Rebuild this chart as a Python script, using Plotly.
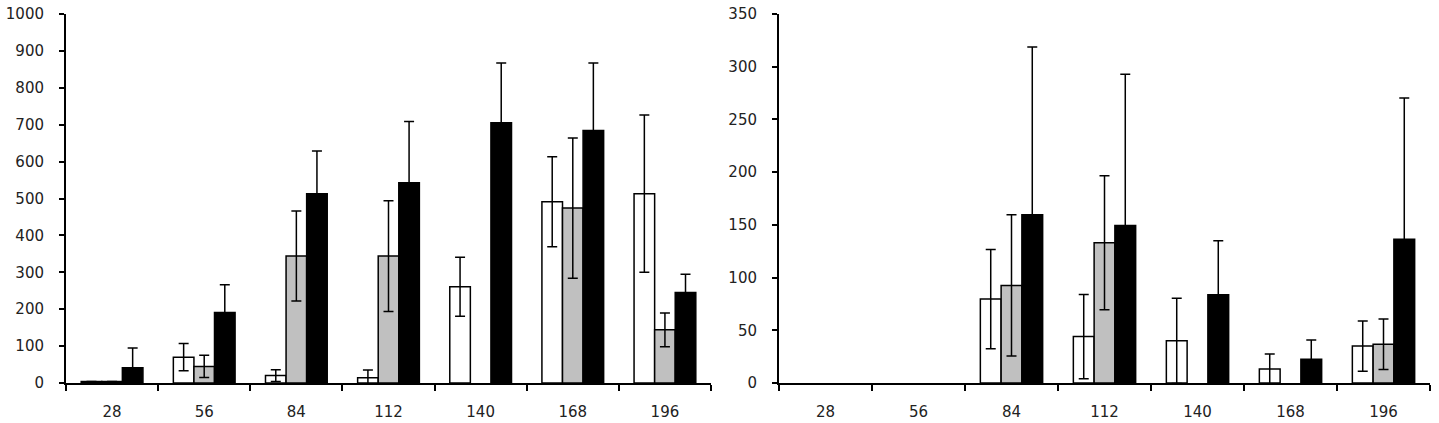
import plotly.graph_objects as go

categories = ["28", "56", "84", "112", "140", "168", "196"]

# Left panel (0-1000)
left_white = [4, 70, 20, 14, 261, 491, 513]
left_white_err = [None, 37, 16, 21, 80, 122, 213]
left_gray = [4, 45, 344, 344, 0, 474, 144]
left_gray_err = [None, 30, 122, 150, None, 190, 46]
left_black = [41, 191, 513, 543, 705, 684, 245]
left_black_err = [54, 75, 116, 166, 162, 183, 50]

# Right panel (0-350)
right_white = [0, 0, 79.6, 44, 40, 13.3, 35]
right_white_err = [None, None, 47, 40, 40.5, 14.2, 23.8]
right_gray = [0, 0, 92.5, 133, 0, 0, 36.7]
right_gray_err = [None, None, 67, 63.5, None, None, 23.9]
right_black = [0, 0, 159.5, 149.4, 83.7, 22.5, 136.4]
right_black_err = [None, None, 159.2, 143.4, 51.3, 18.3, 134]

fill_colors = ["#ffffff", "#c0c0c0", "#000000"]

fig = go.Figure()

def add_series(vals, errs, color, xa, ya):
    # zero values: no visible bar (nothing drawn on the axis)
    shown = [v if v else None for v in vals]
    fig.add_trace(go.Bar(
        x=categories, y=shown,
        marker=dict(color=color, line=dict(color="#000000", width=1.5)),
        error_y=dict(type="data", array=errs, visible=True,
                     color="#000000", thickness=1.5, width=5),
        xaxis=xa, yaxis=ya, showlegend=False, hoverinfo="skip",
    ))

for v, e, c in zip([left_white, left_gray, left_black],
                   [left_white_err, left_gray_err, left_black_err], fill_colors):
    add_series(v, e, c, "x", "y")
for v, e, c in zip([right_white, right_gray, right_black],
                   [right_white_err, right_gray_err, right_black_err], fill_colors):
    add_series(v, e, c, "x2", "y2")

W, H = 1439, 423
font = dict(family="DejaVu Sans", size=15, color="#222222")

xcommon = dict(type="category", range=[-0.5, 6.5], showline=True, linecolor="#000000",
               linewidth=2, ticks="outside", ticklen=6, tickwidth=2, tickcolor="#000000",
               tickson="boundaries", showgrid=False, zeroline=False, tickfont=font,
               ticklabelstandoff=14, fixedrange=True)
ycommon = dict(showline=True, linecolor="#000000", linewidth=2, ticks="outside",
               ticklen=5, tickwidth=2, tickcolor="#000000", showgrid=False,
               zeroline=False, tickfont=font, ticklabelstandoff=12, fixedrange=True)

fig.update_layout(
    width=W, height=H,
    margin=dict(l=0, r=0, t=14, b=40),
    paper_bgcolor="#ffffff", plot_bgcolor="#ffffff",
    barmode="group", bargap=0.33, bargroupgap=0,
    xaxis=dict(domain=[66 / W, 711 / W], anchor="y", **xcommon),
    xaxis2=dict(domain=[779 / W, 1430 / W], anchor="y2", **xcommon),
    yaxis=dict(range=[0, 1000], dtick=100, anchor="x", **ycommon),
    yaxis2=dict(range=[0, 350], dtick=50, anchor="x2", **ycommon),
)

fig.write_html("out.html", config={"displayModeBar": False},
               post_script="document.body.style.margin='0';document.body.style.overflow='hidden';")
